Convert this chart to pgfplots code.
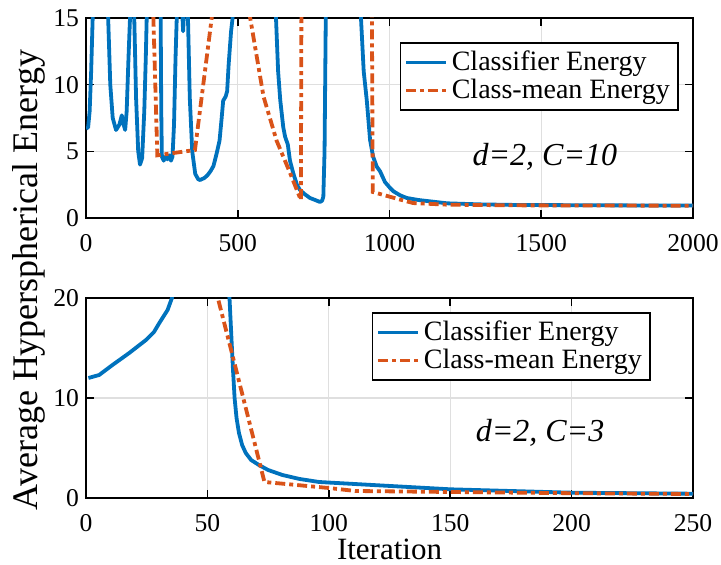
\documentclass[border=0pt]{standalone}
\usepackage{pgfplots}
\pgfplotsset{compat=1.18}
\usepackage{fontspec}
\setmainfont{Liberation Serif}
\definecolor{mblue}{rgb}{0,0.447,0.741}
\definecolor{morange}{rgb}{0.85,0.325,0.098}
\pgfplotsset{
  every axis/.append style={
    scale only axis, width=303.5pt, height=100pt,
    axis line style={line width=0.8pt},
    every tick/.style={black, line width=0.8pt},
    major tick length=4pt,
    tick align=inside,
    xmajorgrids, ymajorgrids,
    grid style={gray!25, line width=0.6pt},
    tick label style={font=\fontsize{12.8}{14}\selectfont},
    xticklabel style={yshift=-4.5pt},
    /pgf/number format/assume math mode=true,
    /pgf/number format/1000 sep={},
    legend style={font=\fontsize{14}{16}\selectfont, draw=black, line width=0.8pt, inner sep=2pt, row sep=-1pt, cells={anchor=west}},
    legend cell align=left,
    legend image code/.code={\draw[#1, line width=1.6pt] (0pt,0pt) -- (20pt,0pt);},
  },
  blue line/.style={mblue, line width=1.9pt, line join=round},
  orange line/.style={morange, line width=1.9pt, dash pattern=on 5pt off 2pt on 2pt off 2pt},
}
\begin{document}
\begin{tikzpicture}
\useasboundingbox (-43pt,-173.5pt) rectangle (317.5pt,109pt);
\begin{axis}[name=top, at={(0,0)}, anchor=south west,
  xmin=0, xmax=2000, ymin=0, ymax=15,
  xtick={0,500,1000,1500,2000}, ytick={0,5,10,15},
  legend style={at={(0.517,0.88)}, anchor=north west},
]
\addplot[blue line] coordinates {
(0,6.7) (7,6.8) (12,8) (17,11) (22,15) (30,25) (65,25) (73,15) (80,10) (88,7.5) (99,6.6) (110,7.0) (118,7.7) (124,7.0) (129,6.6) (134,8) (140,12) (145,15) (150,25)
(154,25) (159,15) (165,9) (172,5) (178,4.0) (185,4.5) (192,8) (197,12) (200,15) (205,25)
(242,25) (246,15) (248,8) (250,4.6) (256,4.3) (262,4.6) (268,4.4) (274,4.7) (280,4.3) (285,4.6) (290,7) (295,12) (299,15) (303,25)
(312,25) (318,15) (320,14) (322,15) (326,25)
(332,25) (336,15) (342,9) (350,5) (360,3.3) (370,2.9) (376,2.85) (390,3.0) (400,3.2) (410,3.5) (420,3.9) (430,4.8) (440,5.8) (447,7.5) (452,8.8) (460,9.1) (465,9.5) (470,11.5) (478,14) (483,15) (488,25)
(620,25) (626,15) (633,11) (640,8.85) (650,6.8) (656,6.1) (665,5.5) (672,4.3) (683,3.35) (695,2.5) (705,2.1) (720,1.8) (738,1.5) (755,1.35) (771,1.2) (778,1.3) (782,1.6) (786,5) (790,15) (795,25)
(900,25) (906,15) (915,11) (925,8.85) (936,5.85) (946,4.6) (958,3.85) (969,3.5) (985,2.7) (1000,2.3) (1013,2.0) (1035,1.7) (1057,1.5) (1095,1.35) (1133,1.25) (1190,1.1) (1300,1.02) (1408,0.98) (1700,0.95) (2000,0.93)
};
\addlegendentry{Classifier Energy}
\addplot[orange line] coordinates {
(218,25) (222,15) (235,4.7) (359,5.1) (470,25) (500,20.5) (541,15) (585,9.1) (628,5.8) (672,3.4) (708,1.35) (711,25)
(938,25) (942,15) (945,1.95) (1035,1.38) (1078,1.12) (1189,1.0) (1400,0.95) (2000,0.92)
};
\addlegendentry{Class-mean Energy}
\node[font=\fontsize{16}{18}\selectfont\itshape] at (axis cs:1512,4.6) {d=2, C=10};
\end{axis}
\begin{axis}[name=bot, at={(0,-140pt)}, anchor=south west,
  xmin=0, xmax=250, ymin=0, ymax=20,
  xtick={0,50,100,150,200,250}, ytick={0,10,20},
  xlabel={Iteration},
  xlabel style={font=\fontsize{15.5}{18}\selectfont, yshift=3pt},
  legend style={at={(0.471,0.93)}, anchor=north west},
]
\addplot[blue line] coordinates {
(1,12) (5.4,12.3) (10.9,13.3) (17.8,14.5) (24.7,15.8) (28,16.6) (30.2,17.5) (33.6,18.8) (35.4,20) (38,23) (57,23) (59.1,20) (59.8,16.5) (60.5,13) (61.2,10) (62,8) (63,6.5) (64.3,5.3) (65.8,4.5) (68,3.8) (71.2,3.3) (75,2.8) (80.9,2.3) (88,1.9) (96,1.6) (118,1.3) (150,0.87) (200,0.53) (250,0.43)
};
\addlegendentry{Classifier Energy}
\addplot[orange line] coordinates {
(50,24) (54.3,20) (60.5,14.1) (73.5,1.6) (100,1.0) (111,0.7) (150,0.6) (200,0.48) (250,0.4)
};
\addlegendentry{Class-mean Energy}
\node[font=\fontsize{16}{18}\selectfont\itshape] at (axis cs:187,6.5) {d=2, C=3};
\end{axis}
\node[rotate=90, font=\fontsize{18}{20}\selectfont] at (-28.75pt,-31pt) {Average Hyperspherical Energy};
\end{tikzpicture}
\end{document}
